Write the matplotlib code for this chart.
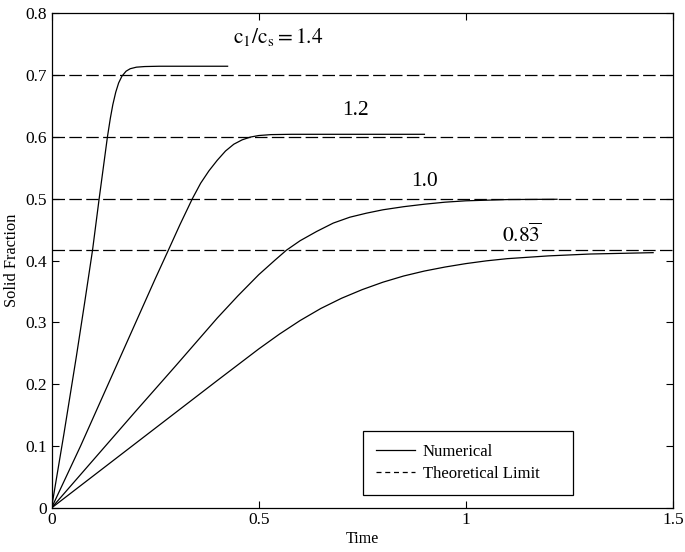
import numpy as np
import matplotlib
matplotlib.use("Agg")
import matplotlib.pyplot as plt
from matplotlib.lines import Line2D
from matplotlib.ticker import FuncFormatter

plt.rcParams['font.family'] = ['Liberation Serif', 'DejaVu Serif']
plt.rcParams['mathtext.fontset'] = 'stix'

# numerical solid fraction vs time for each concentration ratio c1/cs
t_14 = [0, 0.03, 0.06, 0.08, 0.099, 0.115, 0.127, 0.135, 0.142, 0.148,
        0.155, 0.162, 0.170, 0.18, 0.19, 0.205, 0.225, 0.26, 0.425]
f_14 = [0, 0.12, 0.245, 0.332, 0.4167, 0.5, 0.56, 0.6, 0.630, 0.652,
        0.672, 0.687, 0.698, 0.706, 0.710, 0.7125, 0.7135, 0.714, 0.714]

t_12 = [0, 0.07, 0.14, 0.21, 0.25, 0.282, 0.31, 0.34, 0.36, 0.38, 0.40,
        0.42, 0.44, 0.46, 0.48, 0.50, 0.53, 0.58, 0.9]
f_12 = [0, 0.1, 0.205, 0.31, 0.37, 0.4167, 0.458, 0.5, 0.525, 0.545, 0.562,
        0.577, 0.588, 0.595, 0.5995, 0.602, 0.6035, 0.604, 0.604]

t_10 = [0, 0.1, 0.2, 0.3, 0.4, 0.45, 0.5, 0.54, 0.567, 0.6, 0.64, 0.68,
        0.72, 0.76, 0.8, 0.85, 0.9, 0.95, 1.0, 1.1, 1.22]
f_10 = [0, 0.077, 0.154, 0.23, 0.307, 0.343, 0.377, 0.401, 0.4167, 0.432,
        0.447, 0.4605, 0.47, 0.4765, 0.482, 0.487, 0.491, 0.4943, 0.4965,
        0.4985, 0.499]

t_083 = [0, 0.1, 0.2, 0.3, 0.4, 0.5, 0.55, 0.6, 0.65, 0.7, 0.75, 0.8, 0.85,
         0.9, 0.95, 1.0, 1.05, 1.1, 1.2, 1.3, 1.452]
f_083 = [0, 0.0515, 0.103, 0.1545, 0.206, 0.257, 0.281, 0.303, 0.3225,
         0.339, 0.353, 0.365, 0.375, 0.383, 0.3895, 0.395, 0.3995, 0.403,
         0.4075, 0.4105, 0.4127]

# theoretical limits (c1/cs / 2)
limits = [0.7, 0.6, 0.5, 5 / 12]

labels = [r'$\mathrm{c_1/c_s = 1.4}$', '1.2', '1.0', r'$0.8\overline{3}$']
label_pos = [(0.546, 0.761), (0.733, 0.643), (0.9, 0.527), (1.135, 0.44)]

fig = plt.figure(figsize=(6.85, 5.52), dpi=100)
ax = fig.add_axes([0.0752, 0.0797, 0.9073, 0.8967])

for t, f in [(t_14, f_14), (t_12, f_12), (t_10, f_10), (t_083, f_083)]:
    ax.plot(t, f, color='k', lw=0.9)

for lim in limits:
    ax.axhline(lim, color='k', lw=0.9, linestyle=(0, (10, 3.5)))

for txt, (x, y) in zip(labels, label_pos):
    ax.text(x, y, txt, fontsize=15.5, ha='center', va='center')

ax.set_xlim(0, 1.5)
ax.set_ylim(0, 0.8)
ax.set_xticks([0, 0.5, 1, 1.5])
ax.set_yticks(np.arange(0, 0.81, 0.1))
fmt = FuncFormatter(lambda v, p: '%g' % round(v, 2))
ax.xaxis.set_major_formatter(fmt)
ax.yaxis.set_major_formatter(fmt)
ax.tick_params(direction='in', top=True, right=True, length=5, width=0.8,
               labelsize=12.5, pad=3)
for s in ax.spines.values():
    s.set_linewidth(0.9)

ax.set_xlabel('Time', fontsize=11.5, labelpad=2)
ax.set_ylabel('Solid Fraction', fontsize=11.8, labelpad=4)

handles = [Line2D([], [], color='k', lw=0.9),
           Line2D([], [], color='k', lw=0.9, linestyle=(0, (4, 3)))]
leg = ax.legend(handles, ['Numerical', 'Theoretical Limit'], loc='lower left',
                bbox_to_anchor=(0.501, 0.026, 0.338, 0.13), mode='expand',
                borderaxespad=0, fontsize=12, fancybox=False,
                framealpha=1, edgecolor='k', handlelength=2.3,
                handletextpad=0.5, borderpad=0.8, labelspacing=0.35)
leg.get_frame().set_linewidth(0.9)

fig.savefig('out.png', dpi=100)
